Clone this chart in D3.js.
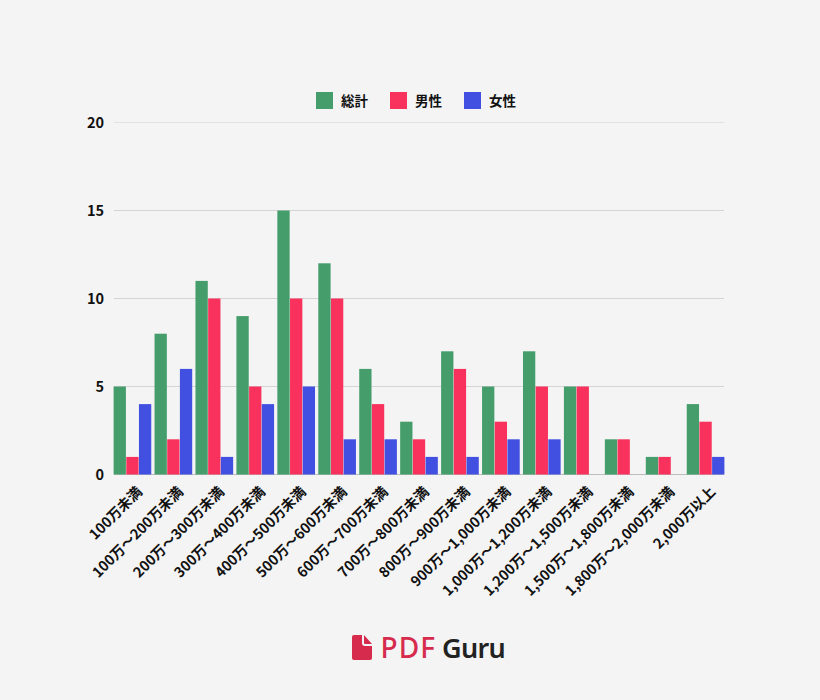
<!DOCTYPE html>
<html><head><meta charset="utf-8">
<script src="https://cdn.jsdelivr.net/npm/d3@7"></script>
<style>html,body{margin:0;padding:0;background:#f4f4f4}svg{display:block}
text{font-family:"Noto Sans CJK JP","Noto Sans",sans-serif;font-weight:700;fill:#111}</style>
</head><body><div id="c"></div>
<script>
const categories=["100万未満","100万～200万未満","200万～300万未満","300万～400万未満","400万～500万未満","500万～600万未満","600万～700万未満","700万～800万未満","800万～900万未満","900万～1,000万未満","1,000万～1,200万未満","1,200万～1,500万未満","1,500万～1,800万未満","1,800万～2,000万未満","2,000万以上"];
const seriesNames=["総計","男性","女性"];
const total=[5,8,11,9,15,12,6,3,7,5,7,5,2,1,4];
const male=[1,2,10,5,10,10,4,2,6,3,5,5,2,1,3];
const female=[4,6,1,4,5,2,2,1,1,2,2,0,0,0,1];
const yTicks=[0,5,10,15,20];
const colors=["#459d6c","#f8325c","#4150e0"];
const seriesValues=[total,male,female];

const svg=d3.select("#c").append("svg").attr("width",820).attr("height",700);
svg.append("rect").attr("width",820).attr("height",700).attr("fill","#f4f4f4");
const x=d3.scaleBand().domain(categories).range([113.6,724.4]).paddingInner(0.08).paddingOuter(0);
const x1=d3.scaleBand().domain(seriesNames).range([0,x.bandwidth()]).paddingInner(0.03);
const y=d3.scaleLinear().domain([0,20]).range([474,122]);
const yBar=d3.scaleLinear().domain([0,20]).range([474.5,122.5]);

const gy=svg.append("g").attr("transform","translate(114,0)")
 .call(d3.axisLeft(y).tickValues(yTicks).tickSize(-610).tickPadding(10).tickFormat(d3.format("d")));
gy.select(".domain").remove();
gy.selectAll(".tick line").attr("stroke",d=>d===0?"#bdbdbd":d===20?"#e2e2e2":"#d4d4d4");
gy.selectAll(".tick text").attr("font-size",14.5).attr("x",-10).attr("y",1);

seriesNames.forEach((s,i)=>{
 svg.append("g").selectAll("rect").data(seriesValues[i].map((v,j)=>({v,c:categories[j]}))).join("rect")
  .attr("x",d=>x(d.c)+x1(s)).attr("width",x1.bandwidth())
  .attr("y",d=>yBar(d.v)).attr("height",d=>yBar(0)-yBar(d.v)).attr("fill",colors[i]);
});

const gx=svg.append("g").attr("transform","translate(0,474)")
 .call(d3.axisBottom(x).tickSize(0).tickPadding(0));
gx.select(".domain").remove();
gx.selectAll(".tick text").attr("font-size",14.2).attr("text-anchor","end").attr("dy",0).attr("y",0)
 .attr("transform","translate(8,16) rotate(-45)").attr("dominant-baseline","middle").style("font-weight",600);

const legendX=[316,390,464];
const legend=svg.append("g");
seriesNames.forEach((s,i)=>{
 legend.append("rect").attr("x",legendX[i]).attr("y",92).attr("width",17).attr("height",17).attr("fill",colors[i]);
 legend.append("text").attr("x",legendX[i]+25).attr("y",106).attr("font-size",13.5).text(s);
});

const logo=svg.append("g");
logo.append("path").attr("fill","#d72b4e")
 .attr("d","M354 635h8v8a3 3 0 0 0 3 3h7v12a2 2 0 0 1-2 2h-16a2 2 0 0 1-2-2v-21a2 2 0 0 1 2-2zM364 635l8 9h-7a1 1 0 0 1-1-1z");
logo.append("text").attr("x",380.5).attr("y",657.5).attr("font-size",28).style("font-family","'Noto Sans'").style("font-weight",500).style("letter-spacing","1.1px").style("fill","#d72b4e").text("PDF");
logo.append("text").attr("x",442).attr("y",657.5).attr("font-size",27).style("font-family","'Noto Sans'").style("font-weight",600).style("letter-spacing","-0.7px").style("fill","#222").text("Guru");
</script></body></html>
